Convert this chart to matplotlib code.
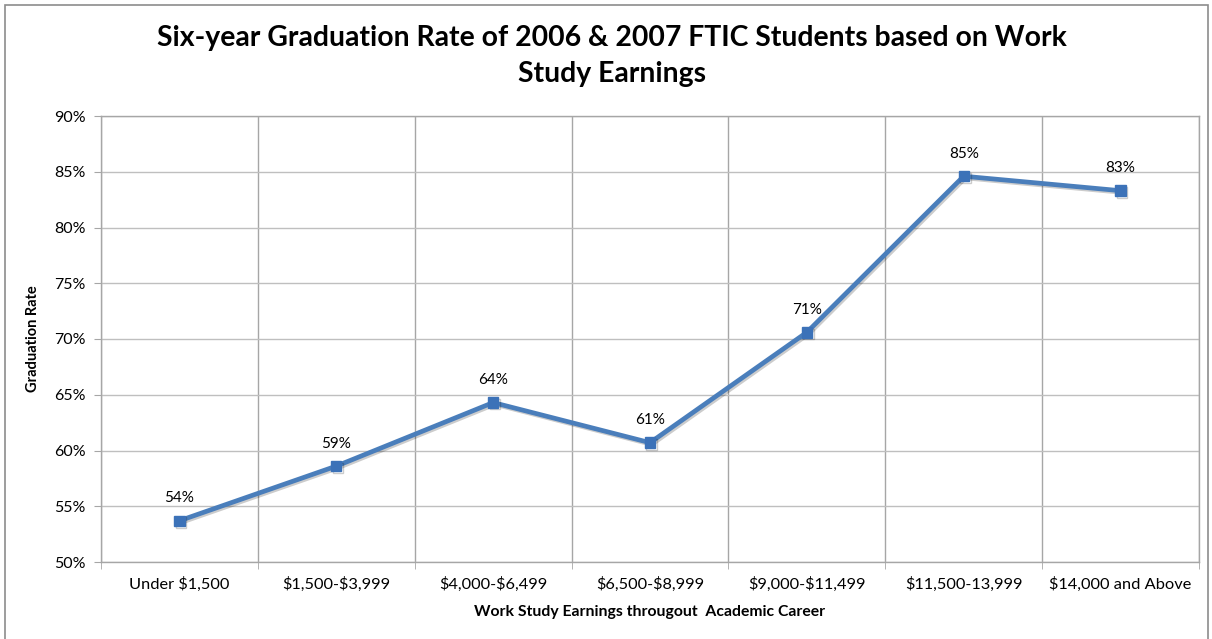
import matplotlib.pyplot as plt
import matplotlib.patheffects as pe
from matplotlib.patches import Rectangle

categories = ['Under $1,500', '$1,500-$3,999', '$4,000-$6,499', '$6,500-$8,999',
              '$9,000-$11,499', '$11,500-13,999', '$14,000 and Above']
rates = [53.7, 58.6, 64.3, 60.7, 70.6, 84.6, 83.3]
yticks = [50, 55, 60, 65, 70, 75, 80, 85, 90]

plt.rcParams['font.family'] = ['Lato', 'DejaVu Sans']
plt.rcParams['text.parse_math'] = False

fig = plt.figure(figsize=(12.12, 6.39), dpi=100, facecolor='white')
fig.patches.append(Rectangle((5 / 1212, -0.01), 1203 / 1212, 1 - 5 / 639 + 0.01,
                             transform=fig.transFigure, fill=False,
                             edgecolor='#8c8c8c', linewidth=1.2))
ax = fig.add_axes([101 / 1212, 77 / 639, 1098 / 1212, 446 / 639])

x = list(range(len(categories)))
line_color = '#4a7ebb'
ax.plot(x, rates, color=line_color, linewidth=3.4, marker='s', markersize=7.5,
        markerfacecolor='#3c72b8', markeredgecolor='#3c72b8', zorder=3,
        path_effects=[pe.SimpleLineShadow(offset=(1.2, -1.2), alpha=0.2), pe.Normal()])

for xi, r in zip(x, rates):
    ax.annotate(f'{r:.0f}%', (xi, r), xytext=(0, 11), textcoords='offset points',
                ha='center', va='bottom', fontsize=11, color='black')

ax.set_xlim(-0.5, len(categories) - 0.5)
ax.set_ylim(50, 90)
ax.set_yticks(yticks)
ax.set_yticklabels([f'{t}%' for t in yticks])
ax.set_xticks(x)
ax.set_xticklabels(categories)
ax.set_xticks([i - 0.5 for i in range(len(categories) + 1)], minor=True)

ax.grid(True, axis='y', which='major', color='#bfbfbf', linewidth=1)
ax.grid(True, axis='x', which='minor', color='#a6a6a6', linewidth=1)
ax.set_axisbelow(True)
for spine in ax.spines.values():
    spine.set_edgecolor('#a6a6a6')
    spine.set_linewidth(1)

ax.tick_params(axis='x', which='major', length=0, labelsize=11.8, pad=11)
ax.tick_params(axis='x', which='minor', length=5, color='#a6a6a6')
ax.tick_params(axis='y', length=5, color='#a6a6a6', labelsize=11.5, pad=6)

ax.set_xlabel('Work Study Earnings througout  Academic Career', fontsize=11.3,
              fontweight='bold', labelpad=9)
ax.set_ylabel('Graduation Rate', fontsize=10.5, fontweight='bold', labelpad=10)

fig.text(0.505, 0.912, 'Six-year Graduation Rate of 2006 & 2007 FTIC Students based on Work\nStudy Earnings',
         ha='center', va='center', fontsize=20.4, fontweight='bold', linespacing=1.5)

fig.savefig('out.png', dpi=100, facecolor='white')
